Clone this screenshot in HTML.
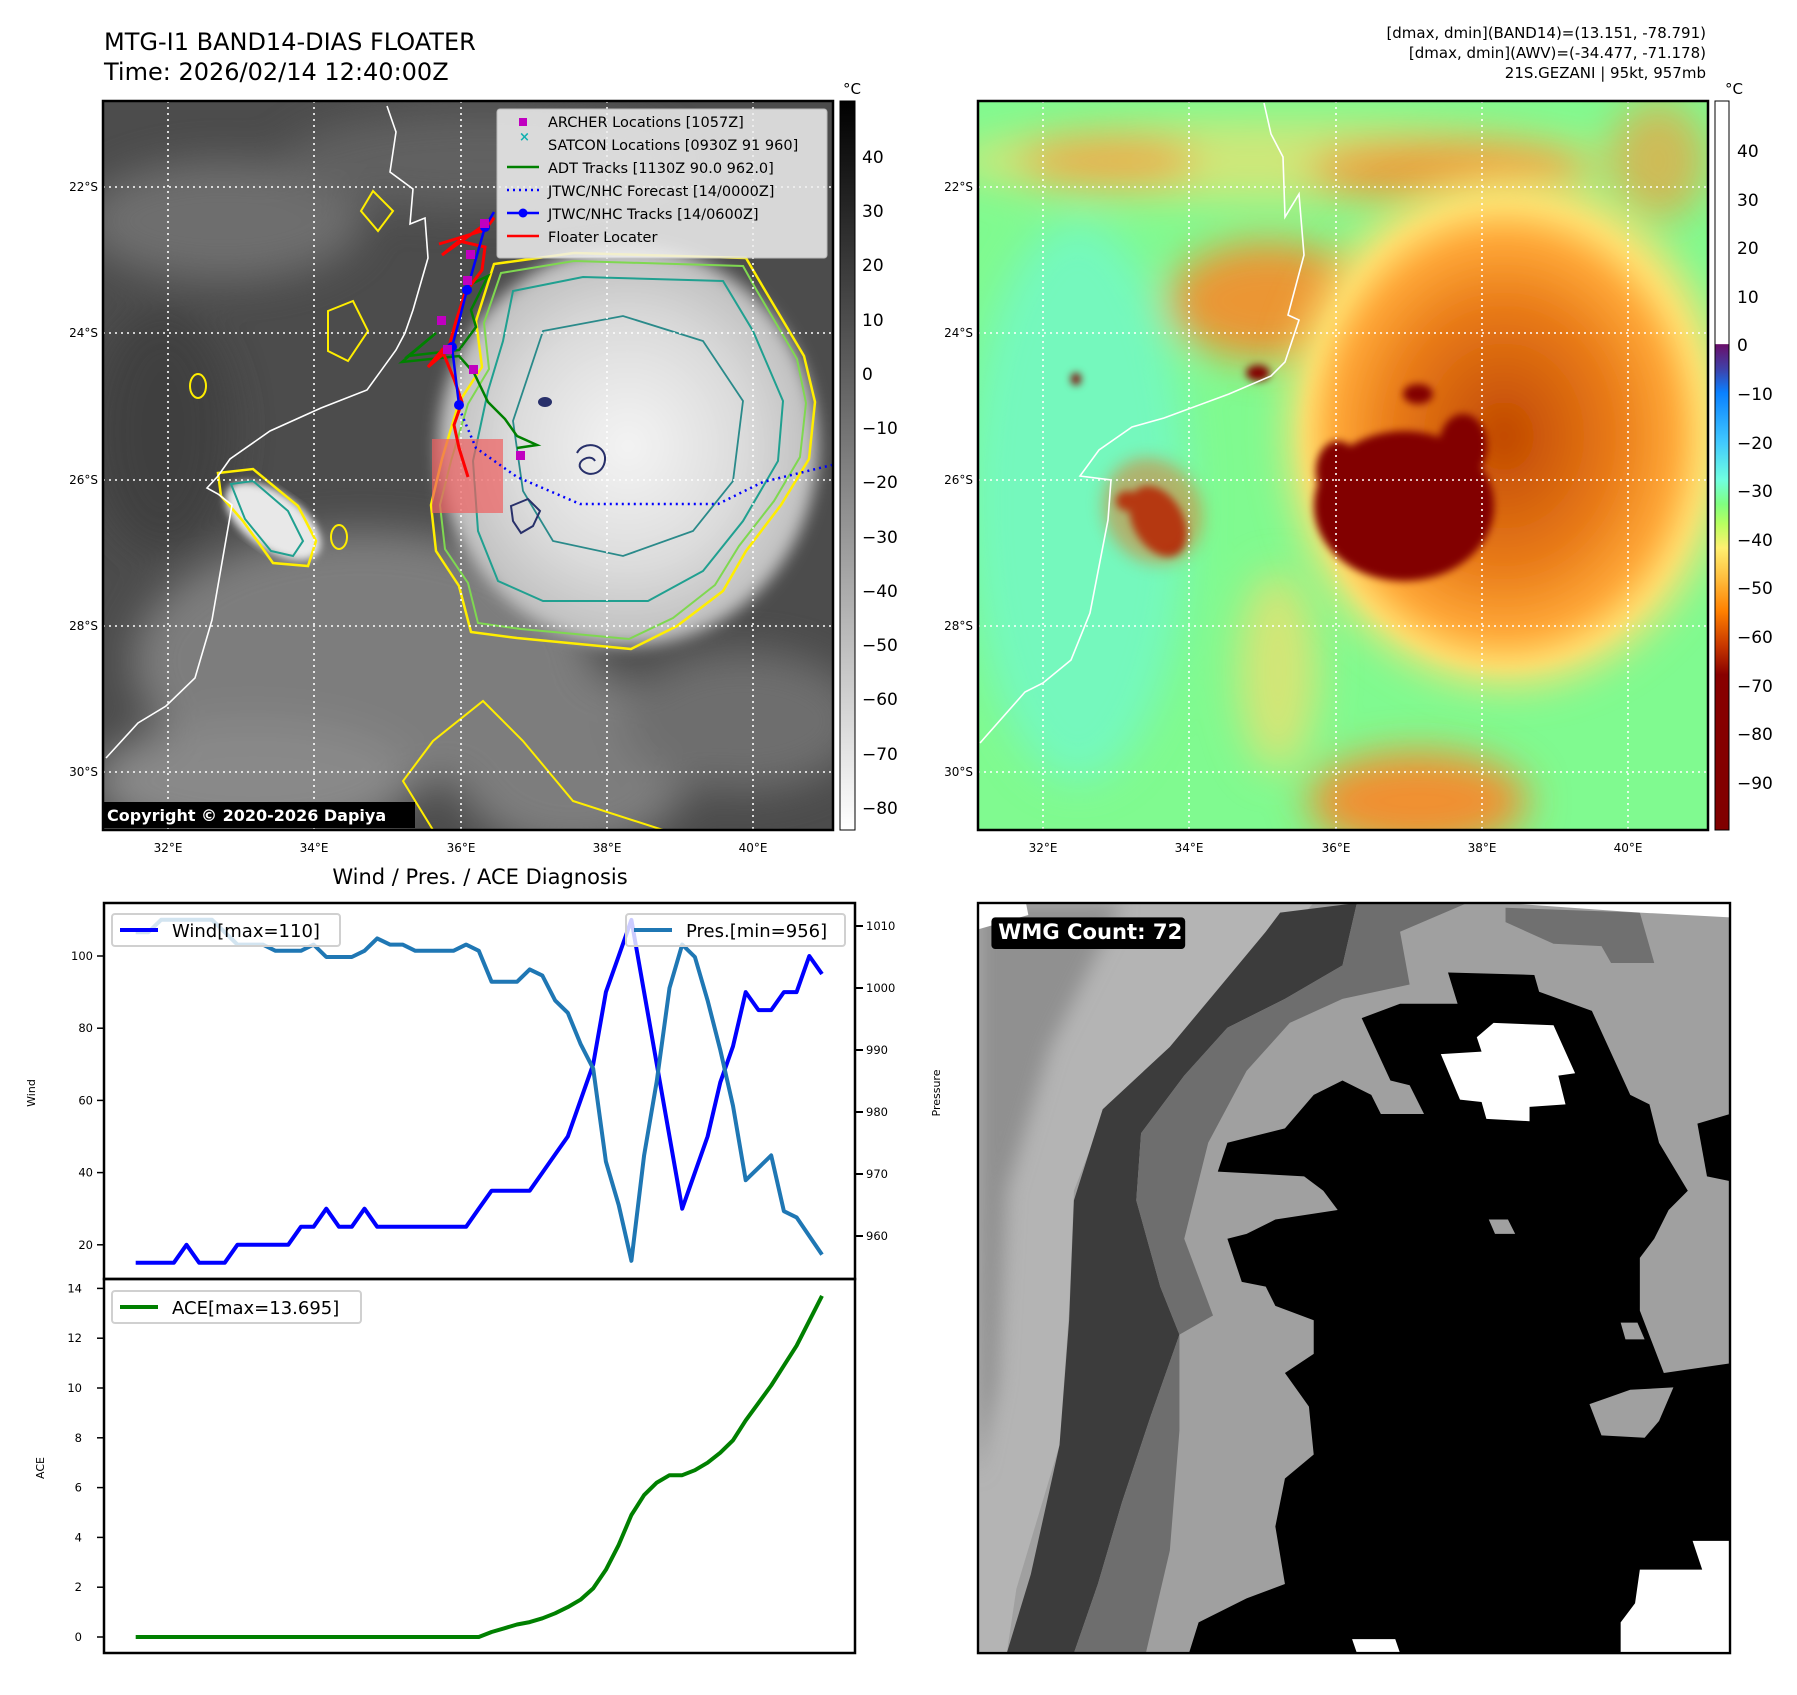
<!DOCTYPE html>
<html><head><meta charset="utf-8">
<style>
html,body{margin:0;padding:0;background:#fff;}
body{width:1797px;height:1690px;position:relative;overflow:hidden;font-family:"Liberation Sans","DejaVu Sans",sans-serif;}
svg text{font-family:"DejaVu Sans","Liberation Sans",sans-serif;}
</style></head>
<body>
<svg id="root" width="1797" height="1690" viewBox="0 0 1797 1690" xmlns="http://www.w3.org/2000/svg">
<defs>
  <filter id="blur8" x="-20%" y="-20%" width="140%" height="140%"><feGaussianBlur stdDeviation="8"/></filter>
  <filter id="blur20" x="-30%" y="-30%" width="160%" height="160%"><feGaussianBlur stdDeviation="20"/></filter>
  <filter id="blur4"><feGaussianBlur stdDeviation="4"/></filter>
  <linearGradient id="grayCb" x1="0" y1="0" x2="0" y2="1">
    <stop offset="0" stop-color="#000"/><stop offset="1" stop-color="#fff"/>
  </linearGradient>
  <linearGradient id="turboCb" x1="0" y1="0" x2="0" y2="1">
    <stop offset="0" stop-color="#fff"/><stop offset="0.333" stop-color="#fff"/>
    <stop offset="0.334" stop-color="#6a0f6a"/><stop offset="0.367" stop-color="#4040a8"/>
    <stop offset="0.4" stop-color="#0a80ff"/><stop offset="0.467" stop-color="#40c8ff"/>
    <stop offset="0.52" stop-color="#70ffe0"/><stop offset="0.553" stop-color="#80ff80"/>
    <stop offset="0.58" stop-color="#b8ff60"/><stop offset="0.613" stop-color="#fff070"/>
    <stop offset="0.653" stop-color="#ffc040"/><stop offset="0.7" stop-color="#ff8000"/>
    <stop offset="0.747" stop-color="#c83800"/><stop offset="0.787" stop-color="#880000"/>
    <stop offset="1" stop-color="#800000"/>
  </linearGradient>
  <radialGradient id="cycGray" cx="0.5" cy="0.5" r="0.5">
    <stop offset="0" stop-color="#f4f4f4"/><stop offset="0.6" stop-color="#dcdcdc"/><stop offset="1" stop-color="#bdbdbd"/>
  </radialGradient>
  <radialGradient id="cycOrange" cx="0.5" cy="0.5" r="0.5">
    <stop offset="0" stop-color="#c04800"/><stop offset="0.55" stop-color="#e87a18"/><stop offset="0.85" stop-color="#ffa838"/><stop offset="1" stop-color="#ffe070"/>
  </radialGradient>
  <clipPath id="mapClip"><rect x="0" y="0" width="730" height="729"/></clipPath>
  <clipPath id="wmgClip"><rect x="0" y="0" width="1568" height="1564"/></clipPath>
</defs>

<text x="104" y="50" font-size="24" fill="#000">MTG-I1 BAND14-DIAS FLOATER</text>
<text x="104" y="80" font-size="24" fill="#000">Time: 2026/02/14 12:40:00Z</text>
<g font-size="15" fill="#000" text-anchor="end">
  <text x="1706" y="38">[dmax, dmin](BAND14)=(13.151, -78.791)</text>
  <text x="1706" y="58">[dmax, dmin](AWV)=(-34.477, -71.178)</text>
  <text x="1706" y="78">21S.GEZANI | 95kt, 957mb</text>
</g>

<g id="leftMap" transform="translate(103,101)">
  <g clip-path="url(#mapClip)">
    <rect width="730" height="729" fill="#4c4c4c"/>
    <g filter="url(#blur20)" opacity="0.8">
      <ellipse cx="120" cy="120" rx="140" ry="60" fill="#777"/>
      <ellipse cx="260" cy="560" rx="230" ry="130" fill="#8a8a8a"/>
      <ellipse cx="150" cy="680" rx="160" ry="60" fill="#999"/>
      <ellipse cx="470" cy="660" rx="120" ry="90" fill="#8a8a8a"/>
      <ellipse cx="640" cy="620" rx="120" ry="70" fill="#777"/>
      <ellipse cx="380" cy="60" rx="200" ry="50" fill="#666"/>
      <ellipse cx="60" cy="330" rx="70" ry="120" fill="#3c3c3c"/>
    </g>
    <ellipse cx="525" cy="345" rx="190" ry="200" fill="url(#cycGray)" filter="url(#blur8)"/>
    <ellipse cx="170" cy="420" rx="55" ry="28" transform="rotate(35 170 420)" fill="#e8e8e8" filter="url(#blur4)"/>
    <path d="M391,163 L471,152 L643,157 L660,186 L701,255 L712,301 L706,358 L678,404 L643,450 L620,490 L574,525 L528,548 L414,537 L368,531 L356,485 L333,450 L328,404 L339,358 L356,301 L379,266 L373,220 Z" fill="none" stroke="#ffee00" stroke-width="2.5" stroke-linejoin="round"/>
    <path d="M398,172 L471,160 L640,165 L654,190 L694,258 L703,302 L697,356 L671,400 L636,445 L612,484 L570,517 L526,538 L418,528 L375,522 L365,482 L342,448 L337,404 L348,360 L365,303 L386,268 L381,222 Z" fill="none" stroke="#7fd850" stroke-width="2"/>
    <path d="M410,190 L480,176 L620,180 L650,230 L680,300 L675,360 L640,420 L600,470 L545,500 L440,500 L395,480 L375,430 L370,360 L385,290 L400,240 Z" fill="none" stroke="#20a090" stroke-width="2"/>
    <path d="M440,230 L520,215 L600,240 L640,300 L630,380 L590,430 L520,455 L450,440 L420,390 L410,320 Z" fill="none" stroke="#2a8a8a" stroke-width="1.8"/>
    <path d="M474,352 C480,340 500,342 502,356 C503,372 486,378 478,368 C472,360 488,352 492,360" fill="none" stroke="#28306a" stroke-width="2"/>
    <path d="M408,405 L425,398 L437,410 L430,425 L418,432 L410,420 Z" fill="none" stroke="#28306a" stroke-width="2"/>
    <ellipse cx="442" cy="301" rx="7" ry="5" fill="#28306a"/>
    <path d="M115,372 L150,368 L195,405 L213,440 L205,465 L170,462 L140,420 L118,395 Z" fill="none" stroke="#ffee00" stroke-width="2.5"/>
    <path d="M128,383 L150,380 L185,410 L200,440 L190,455 L168,450 L142,418 Z" fill="none" stroke="#20a090" stroke-width="2"/>
    <ellipse cx="236" cy="436" rx="8" ry="12" fill="none" stroke="#ffee00" stroke-width="2"/>
    <ellipse cx="95" cy="285" rx="8" ry="12" fill="none" stroke="#ffee00" stroke-width="2"/>
    <path d="M380,600 L420,640 L470,700 L560,729 L330,729 L300,680 L330,640 Z" fill="none" stroke="#ffee00" stroke-width="2"/>
    <path d="M270,90 L290,110 L275,130 L258,110 Z M225,210 L250,200 L265,230 L245,260 L225,250 Z" fill="none" stroke="#ffee00" stroke-width="2"/>
    <polyline points="284,5 293,31 287,71 310,88 307,123 322,117 325,157 310,209 302,232 293,249 264,289 218,307 167,330 127,358 115,375 104,387 115,393 129,404 121,450 109,519 92,577 63,605 35,622 3,657" fill="none" stroke="#fff" stroke-width="1.6"/>
    <g stroke="#fff" stroke-width="1.6" stroke-dasharray="2,4">
      <line x1="65" y1="0" x2="65" y2="729"/><line x1="211" y1="0" x2="211" y2="729"/><line x1="358" y1="0" x2="358" y2="729"/><line x1="504" y1="0" x2="504" y2="729"/><line x1="650" y1="0" x2="650" y2="729"/>
      <line x1="0" y1="86" x2="730" y2="86"/><line x1="0" y1="232" x2="730" y2="232"/><line x1="0" y1="379" x2="730" y2="379"/><line x1="0" y1="525" x2="730" y2="525"/><line x1="0" y1="671" x2="730" y2="671"/>
    </g>
    <rect x="329" y="338" width="71" height="74" fill="#f06060" opacity="0.7"/>
    <polyline points="356,307 373,347 414,376 477,403 615,403 660,381 729,364" fill="none" stroke="#0000ff" stroke-width="2.5" stroke-dasharray="2,4"/>
    <polyline points="362,186 385,175 368,209 373,226 356,249 305,255 333,232 299,261 356,255 371,272 385,301 402,318 414,335 434,344 414,347" fill="none" stroke="#008000" stroke-width="2.5"/>
    <polyline points="336,143 382,129 391,117 339,154 356,140 382,146 379,169 362,192 353,220 345,249 325,266 339,249 351,278 359,301 351,324 356,347 365,376" fill="none" stroke="#ff0000" stroke-width="3"/>
    <polyline points="391,111 382,126 364,189 356,220 349,246 356,304" fill="none" stroke="#0000ff" stroke-width="2.5"/>
    <g fill="#0000ff"><circle cx="364" cy="189" r="5"/><circle cx="349" cy="246" r="5"/><circle cx="356" cy="304" r="5"/><circle cx="382" cy="126" r="5"/></g>
    <g fill="#c000c0">
      <rect x="377" y="118" width="9" height="9"/><rect x="363" y="149" width="9" height="9"/><rect x="360" y="175" width="9" height="9"/><rect x="334" y="215" width="9" height="9"/><rect x="340" y="244" width="9" height="9"/><rect x="366" y="264" width="9" height="9"/><rect x="413" y="350" width="9" height="9"/>
    </g>
    <g>
      <rect x="394" y="8" width="330" height="149" rx="3" fill="#f0f0f0" opacity="0.85" stroke="#ccc"/>
      <rect x="416" y="17" width="8" height="8" fill="#c000c0"/>
      <text x="416" y="40" font-size="13" fill="#10b0b0" font-weight="bold">×</text>
      <line x1="404" y1="66" x2="436" y2="66" stroke="#008000" stroke-width="2.5"/>
      <line x1="404" y1="89" x2="436" y2="89" stroke="#0000ff" stroke-width="2.5" stroke-dasharray="2,4"/>
      <line x1="404" y1="112" x2="436" y2="112" stroke="#0000ff" stroke-width="2.5"/><circle cx="420" cy="112" r="4.5" fill="#0000ff"/>
      <line x1="404" y1="135" x2="436" y2="135" stroke="#ff0000" stroke-width="2.5"/>
      <g font-size="14.5" fill="#000">
        <text x="445" y="26">ARCHER Locations [1057Z]</text>
        <text x="445" y="49">SATCON Locations [0930Z 91 960]</text>
        <text x="445" y="72">ADT Tracks [1130Z 90.0 962.0]</text>
        <text x="445" y="95">JTWC/NHC Forecast [14/0000Z]</text>
        <text x="445" y="118">JTWC/NHC Tracks [14/0600Z]</text>
        <text x="445" y="141">Floater Locater</text>
      </g>
    </g>
  </g>
  <rect width="730" height="729" fill="none" stroke="#000" stroke-width="2.5"/>
  <rect x="-1" y="701" width="313" height="26" fill="#000"/>
  <text x="4" y="720" font-size="16" font-weight="bold" fill="#fff">Copyright © 2020-2026 Dapiya</text>
</g>
<g font-size="12" fill="#000">
  <text x="98" y="191" text-anchor="end">22°S</text><text x="98" y="337" text-anchor="end">24°S</text><text x="98" y="484" text-anchor="end">26°S</text><text x="98" y="630" text-anchor="end">28°S</text><text x="98" y="776" text-anchor="end">30°S</text>
  <text x="168" y="852" text-anchor="middle">32°E</text><text x="314" y="852" text-anchor="middle">34°E</text><text x="461" y="852" text-anchor="middle">36°E</text><text x="607" y="852" text-anchor="middle">38°E</text><text x="753" y="852" text-anchor="middle">40°E</text>
</g>
<g>
  <rect x="840" y="101" width="15" height="729" fill="url(#grayCb)" stroke="#000" stroke-width="1"/>
  <text x="852" y="94" font-size="15" text-anchor="middle">°C</text>
  <g font-size="17" fill="#000">
    <text x="862" y="163">40</text><text x="862" y="217">30</text><text x="862" y="271">20</text><text x="862" y="326">10</text><text x="862" y="380">0</text><text x="862" y="434">−10</text><text x="862" y="488">−20</text><text x="862" y="543">−30</text><text x="862" y="597">−40</text><text x="862" y="651">−50</text><text x="862" y="705">−60</text><text x="862" y="760">−70</text><text x="862" y="814">−80</text>
  </g>
</g>

<g id="rightMap" transform="translate(978,101)">
  <g clip-path="url(#mapClip)">
    <rect width="730" height="729" fill="#80fa90"/>
    <g filter="url(#blur20)">
      <ellipse cx="100" cy="400" rx="110" ry="280" fill="#72f8c8" opacity="0.8"/>
      <ellipse cx="300" cy="60" rx="330" ry="40" fill="#f0e070" opacity="0.7"/>
      <ellipse cx="290" cy="200" rx="100" ry="60" fill="#f09030" opacity="0.95"/>
      <ellipse cx="470" cy="70" rx="140" ry="30" fill="#f09030" opacity="0.85"/>
      <ellipse cx="130" cy="60" rx="90" ry="25" fill="#f0a040" opacity="0.8"/>
      <ellipse cx="440" cy="700" rx="110" ry="50" fill="#f09030"/>
      <ellipse cx="300" cy="570" rx="40" ry="100" fill="#e8e070" opacity="0.8"/>
      <ellipse cx="680" cy="60" rx="50" ry="60" fill="#f0a040" opacity="0.7"/>
    </g>
    <ellipse cx="530" cy="330" rx="220" ry="255" fill="#ffe070" filter="url(#blur20)"/>
    <ellipse cx="526" cy="335" rx="200" ry="232" fill="url(#cycOrange)" filter="url(#blur8)"/>
    <g filter="url(#blur4)" fill="#820000">
      <ellipse cx="426" cy="405" rx="90" ry="75"/>
      <ellipse cx="360" cy="370" rx="22" ry="30"/>
      <ellipse cx="485" cy="345" rx="24" ry="32"/>
      <ellipse cx="440" cy="293" rx="15" ry="10"/>
      <ellipse cx="180" cy="420" rx="25" ry="38" transform="rotate(-30 180 420)"/>
      <ellipse cx="150" cy="400" rx="12" ry="10"/>
      <ellipse cx="98" cy="278" rx="5" ry="6"/>
      <ellipse cx="280" cy="272" rx="12" ry="8"/>
    </g>
    <ellipse cx="175" cy="410" rx="48" ry="55" transform="rotate(-30 175 410)" fill="#e87020" opacity="0.5" filter="url(#blur8)"/>
    <polyline points="286,2 293,33 305,56 307,116 321,93 326,154 310,214 321,219 307,261 293,275 251,293 186,317 154,326 121,349 102,375 133,379 130,419 112,512 93,559 65,582 47,591 2,642" fill="none" stroke="#fff" stroke-width="1.6"/>
    <g stroke="#fff" stroke-width="1.6" stroke-dasharray="2,4">
      <line x1="65" y1="0" x2="65" y2="729"/><line x1="211" y1="0" x2="211" y2="729"/><line x1="358" y1="0" x2="358" y2="729"/><line x1="504" y1="0" x2="504" y2="729"/><line x1="650" y1="0" x2="650" y2="729"/>
      <line x1="0" y1="86" x2="730" y2="86"/><line x1="0" y1="232" x2="730" y2="232"/><line x1="0" y1="379" x2="730" y2="379"/><line x1="0" y1="525" x2="730" y2="525"/><line x1="0" y1="671" x2="730" y2="671"/>
    </g>
  </g>
  <rect width="730" height="729" fill="none" stroke="#000" stroke-width="2.5"/>
</g>
<g font-size="12" fill="#000">
  <text x="973" y="191" text-anchor="end">22°S</text><text x="973" y="337" text-anchor="end">24°S</text><text x="973" y="484" text-anchor="end">26°S</text><text x="973" y="630" text-anchor="end">28°S</text><text x="973" y="776" text-anchor="end">30°S</text>
  <text x="1043" y="852" text-anchor="middle">32°E</text><text x="1189" y="852" text-anchor="middle">34°E</text><text x="1336" y="852" text-anchor="middle">36°E</text><text x="1482" y="852" text-anchor="middle">38°E</text><text x="1628" y="852" text-anchor="middle">40°E</text>
</g>
<g>
  <rect x="1715" y="101" width="14" height="729" fill="url(#turboCb)" stroke="#000" stroke-width="1"/>
  <text x="1734" y="94" font-size="15" text-anchor="middle">°C</text>
  <g font-size="17" fill="#000">
    <text x="1737" y="157">40</text><text x="1737" y="206">30</text><text x="1737" y="254">20</text><text x="1737" y="303">10</text><text x="1737" y="351">0</text><text x="1737" y="400">−10</text><text x="1737" y="449">−20</text><text x="1737" y="497">−30</text><text x="1737" y="546">−40</text><text x="1737" y="594">−50</text><text x="1737" y="643">−60</text><text x="1737" y="692">−70</text><text x="1737" y="740">−80</text><text x="1737" y="789">−90</text>
  </g>
</g>

<g transform="translate(978,903) scale(0.4796)">
  <g clip-path="url(#wmgClip)">
    <rect width="1568" height="1564" fill="#a0a0a0"/>
    <polygon points="0,0 700,0 470,250 270,420 200,600 190,850 170,1130 80,1430 60,1564 0,1564" fill="#b4b4b4"/>
    <polygon points="0,0 300,0 150,300 60,600 40,1000 0,1200" fill="#909090" filter="url(#blur20)"/>
    <polygon points="630,20 790,0 760,130 640,200 520,260 430,360 340,480 330,620 380,800 420,900 360,1070 300,1250 250,1420 200,1564 60,1564 110,1400 170,1130 190,870 200,620 260,430 400,300 500,180 600,60" fill="#3c3c3c"/>
    <polygon points="790,0 1020,0 880,60 900,170 760,200 650,250 560,350 480,500 430,700 490,860 420,900 420,1100 400,1350 350,1564 200,1564 250,1420 300,1250 360,1070 420,900 380,800 330,620 340,480 430,360 520,260 640,200 760,130" fill="#6e6e6e"/>
    <polygon points="1100,10 1380,20 1410,125 1320,125 1300,90 1200,85 1100,40" fill="#707070"/>
    <polygon points="980,145 1160,150 1170,185 1280,225 1360,400 1400,420 1420,500 1480,600 1440,640 1410,700 1380,740 1380,850 1430,980 1568,960 1568,1564 440,1564 460,1500 560,1450 640,1420 620,1300 640,1200 700,1150 690,1050 640,980 700,940 700,870 620,840 600,800 550,790 520,700 560,690 620,660 750,640 720,600 680,570 500,560 520,500 640,470 700,400 760,370 820,400 840,440 930,440 900,380 860,370 800,240 880,210 1000,210" fill="#000"/>
    <polygon points="1500,460 1568,440 1568,580 1520,570" fill="#000"/>
    <polygon points="1275,1045 1360,1015 1450,1010 1420,1080 1390,1115 1300,1110" fill="#a0a0a0"/>
    <polygon points="1340,875 1375,875 1390,910 1350,910" fill="#a0a0a0"/>
    <polygon points="1065,660 1105,660 1120,690 1078,690" fill="#a0a0a0"/>
    <polygon points="965,315 1050,310 1040,280 1075,250 1200,255 1245,355 1210,360 1225,420 1150,425 1150,455 1060,450 1050,415 1005,410" fill="#fff"/>
    <polygon points="1490,1330 1568,1330 1568,1564 1340,1564 1340,1500 1370,1460 1380,1390 1510,1390" fill="#fff"/>
    <polygon points="780,1535 870,1535 880,1564 790,1564" fill="#fff"/>
    <polygon points="0,0 100,0 105,25 0,55" fill="#fff"/>
    <polygon points="1100,0 1568,0 1568,30 1380,20" fill="#fff"/>
  </g>
  <rect width="1568" height="1564" fill="none" stroke="#000" stroke-width="5"/>
  <rect x="28" y="30" width="404" height="66" rx="8" fill="#000"/>
  <text x="42" y="75" font-size="44" font-weight="bold" fill="#fff">WMG Count: 72</text>
</g>

<text x="480" y="884" font-size="21" text-anchor="middle">Wind / Pres. / ACE Diagnosis</text>
<g id="chart"></g>
</svg>

<script>
const windValues = [15,15,15,15,20,15,15,15,20,20,20,20,20,25,25,30,25,25,30,25,25,25,25,25,25,25,25,30,35,35,35,35,40,45,50,60,70,90,100,110,90,70,50,30,40,50,65,75,90,85,85,90,90,100,95];
const presValues = [1009,1009,1011,1011,1011,1011,1011,1009,1007,1007,1007,1006,1006,1006,1007,1005,1005,1005,1006,1008,1007,1007,1006,1006,1006,1006,1007,1006,1001,1001,1001,1003,1002,998,996,991,987,972,965,956,973,985,1000,1007,1005,998,990,981,969,971,973,964,963,960,957];
const aceValues = [0,0,0,0,0,0,0,0,0,0,0,0,0,0,0,0,0,0,0,0,0,0,0,0,0,0,0,0,0.2,0.35,0.5,0.6,0.75,0.95,1.2,1.5,1.95,2.7,3.7,4.9,5.7,6.2,6.5,6.5,6.7,7.0,7.4,7.9,8.7,9.4,10.1,10.9,11.7,12.7,13.7];
const windTicks = [20,40,60,80,100];
const presTicks = [960,970,980,990,1000,1010];
const aceTicks = [0,2,4,6,8,10,12,14];

const NS = 'http://www.w3.org/2000/svg';
const chart = document.getElementById('chart');
const X0 = 135.7, X1 = 822;
function xPos(i){ return X0 + i*(X1-X0)/(windValues.length-1); }
function yWind(v){ return 956 + (100-v)*3.61; }
function yPres(p){ return 926 + (1010-p)*6.2; }
function yAce(a){ return 1637 - a*24.9; }
function mk(tag, attrs, parent){ const e=document.createElementNS(NS,tag); for(const k in attrs) e.setAttribute(k,attrs[k]); (parent||chart).appendChild(e); return e; }
function txt(x,y,s,size,anchor){ const t=mk('text',{x:x,y:y,'font-size':size,'text-anchor':anchor||'start',fill:'#000'}); t.textContent=s; return t; }

const f1 = mk('rect',{x:104,y:903,width:751,height:376,fill:'none',stroke:'#000','stroke-width':2.5});


const f2 = mk('rect',{x:104,y:1279,width:751,height:374,fill:'none',stroke:'#000','stroke-width':2.5});



windTicks.forEach(v=>{ const y=yWind(v);
  const l=mk('line',{x1:97,y1:y,x2:104,y2:y,stroke:'#000','stroke-width':1.5});
  
  
  txt(93,y+4,String(v),11.5,'end'); });
presTicks.forEach(p=>{ const y=yPres(p);
  const l=mk('line',{x1:855,y1:y,x2:863,y2:y,stroke:'#000','stroke-width':2});
  
  
  txt(866,y+4,String(p),11.5,'start'); });
aceTicks.forEach(a=>{ const y=yAce(a);
  const l=mk('line',{x1:97,y1:y,x2:104,y2:y,stroke:'#000','stroke-width':1.5});
  
  
  txt(82,y+4,String(a),11.5,'end'); });

const wl = txt(0,0,'Wind',11,'middle'); wl.setAttribute('transform','translate(35,1093) rotate(-90)');


const pl = txt(0,0,'Pressure',11,'middle'); pl.setAttribute('transform','translate(940,1093) rotate(-90)');


const al = txt(0,0,'ACE',11,'middle'); al.setAttribute('transform','translate(44,1468) rotate(-90)');



function pts(arr, fy){ return arr.map((v,i)=>xPos(i).toFixed(1)+','+fy(v).toFixed(1)).join(' '); }
const wLine = mk('polyline',{points:pts(windValues,yWind),fill:'none',stroke:'#0000ff','stroke-width':4,'stroke-linejoin':'round'});


const pLine = mk('polyline',{points:pts(presValues,yPres),fill:'none',stroke:'#1f77b4','stroke-width':4,'stroke-linejoin':'round'});


const aLine = mk('polyline',{points:pts(aceValues,yAce),fill:'none',stroke:'#008000','stroke-width':4,'stroke-linejoin':'round'});



function legend(x,y,w,color,label,name){
  const g = mk('g',{});
  
  
  mk('rect',{x:x,y:y,width:w,height:32,rx:3,fill:'#fff','fill-opacity':0.8,stroke:'#d0d0d0','stroke-width':2},g);
  mk('line',{x1:x+8,y1:y+16,x2:x+46,y2:y+16,stroke:color,'stroke-width':4},g);
  const t=mk('text',{x:x+60,y:y+23,'font-size':18,fill:'#000'},g); t.textContent=label;
}
legend(112,914,228,'#0000ff','Wind[max=110]','wind-legend');
legend(626,914,219,'#1f77b4','Pres.[min=956]','pressure-legend');
legend(112,1291,249,'#008000','ACE[max=13.695]','ace-legend');
</script>
</body></html>
